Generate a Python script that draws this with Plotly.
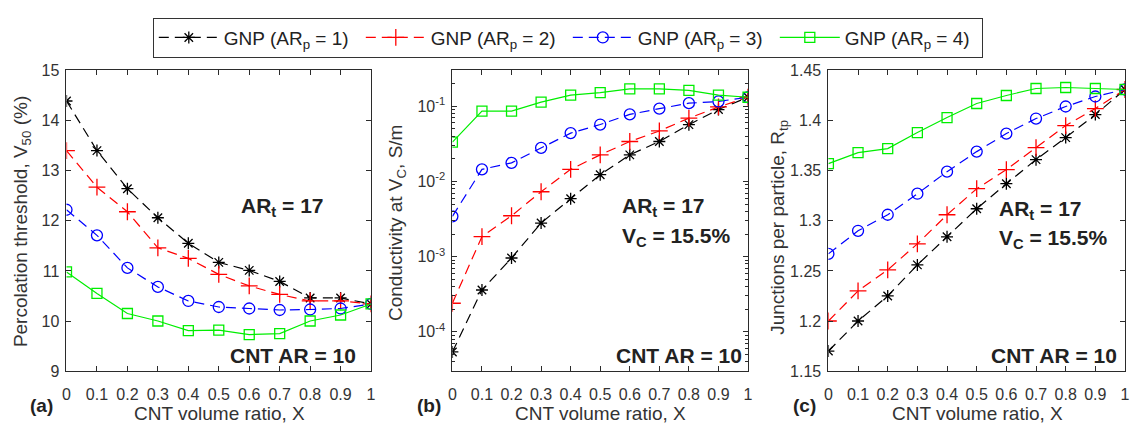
import plotly.graph_objects as go
import numpy as np

W, H = 1131, 432

# ---------------- data ----------------
x_ratio = [0, 0.1, 0.2, 0.3, 0.4, 0.5, 0.6, 0.7, 0.8, 0.9, 1.0]

series_names = ["GNP (AR<sub>p</sub> = 1)", "GNP (AR<sub>p</sub> = 2)",
                "GNP (AR<sub>p</sub> = 3)", "GNP (AR<sub>p</sub> = 4)"]

# (a) Percolation threshold V50 (%)
v50_ar1 = [14.39, 13.40, 12.64, 12.06, 11.55, 11.17, 11.01, 10.79, 10.46, 10.46, 10.34]
v50_ar2 = [13.40, 12.67, 12.18, 11.46, 11.25, 10.93, 10.70, 10.53, 10.40, 10.40, 10.34]
v50_ar3 = [12.22, 11.71, 11.06, 10.68, 10.40, 10.28, 10.25, 10.22, 10.23, 10.25, 10.34]
v50_ar4 = [10.98, 10.55, 10.15, 10.00, 9.81, 9.82, 9.73, 9.75, 10.00, 10.12, 10.34]

# (b) Conductivity at V_C (S/m)
sig_ar1 = [5.4e-5, 3.6e-4, 9.6e-4, 2.8e-3, 5.9e-3, 0.0123, 0.0226, 0.034, 0.057, 0.0906, 0.132]
sig_ar2 = [2.4e-4, 1.85e-3, 3.5e-3, 7.3e-3, 0.0145, 0.0226, 0.034, 0.047, 0.0696, 0.098, 0.132]
sig_ar3 = [3.44e-3, 0.0145, 0.0177, 0.028, 0.044, 0.0572, 0.078, 0.093, 0.110, 0.116, 0.132]
sig_ar4 = [0.0333, 0.0863, 0.0863, 0.1136, 0.141, 0.152, 0.171, 0.171, 0.163, 0.141, 0.132]

# (c) Junctions per particle R_tp
rtp_ar1 = [1.170, 1.200, 1.225, 1.256, 1.284, 1.312, 1.337, 1.361, 1.383, 1.406, 1.431]
rtp_ar2 = [1.200, 1.230, 1.251, 1.277, 1.306, 1.332, 1.351, 1.373, 1.395, 1.412, 1.431]
rtp_ar3 = [1.267, 1.290, 1.306, 1.327, 1.349, 1.369, 1.387, 1.402, 1.414, 1.424, 1.431]
rtp_ar4 = [1.357, 1.368, 1.372, 1.388, 1.403, 1.417, 1.425, 1.432, 1.433, 1.432, 1.431]

x_tickvals = [0, 0.1, 0.2, 0.3, 0.4, 0.5, 0.6, 0.7, 0.8, 0.9, 1]
x_ticktext = ["0", "0.1", "0.2", "0.3", "0.4", "0.5", "0.6", "0.7", "0.8", "0.9", "1"]
a_ticks = [9, 10, 11, 12, 13, 14, 15]
b_tickvals = [1e-4, 1e-3, 1e-2, 1e-1]
b_ticktext = ["10<sup>-4</sup>", "10<sup>-3</sup>", "10<sup>-2</sup>", "10<sup>-1</sup>"]
c_tickvals = [1.15, 1.2, 1.25, 1.3, 1.35, 1.4, 1.45]
c_ticktext = ["1.15", "1.2", "1.25", "1.3", "1.35", "1.4", "1.45"]

# ---------------- styles ----------------
colors = ["#000000", "#ff0000", "#0000ff", "#00ee00"]
symbols = ["asterisk-open", "cross-thin-open", "circle-open", "square-open"]
msizes = [10, 12, 11, 10]
dashes = ["10px,6px", "10px,6px", "10px,6px", "solid"]
FONT = "Liberation Sans, Arial, sans-serif"
AX = "#2b2b2b"
TXT = "#333333"

def px_x(p):
    return p / W

def px_y(p):
    return 1 - p / H

fig = go.Figure()

panels = [
    ("x", "y", [v50_ar1, v50_ar2, v50_ar3, v50_ar4]),
    ("x2", "y2", [sig_ar1, sig_ar2, sig_ar3, sig_ar4]),
    ("x3", "y3", [rtp_ar1, rtp_ar2, rtp_ar3, rtp_ar4]),
]
for pi, (xa, ya, data) in enumerate(panels):
    for si in range(4):
        fig.add_trace(go.Scatter(
            x=x_ratio, y=data[si], xaxis=xa, yaxis=ya,
            mode="lines+markers", name=series_names[si],
            showlegend=(pi == 0),
            line=dict(color=colors[si], width=1.2, dash=dashes[si]),
            marker=dict(symbol=symbols[si], size=msizes[si],
                        color=colors[si], line=dict(color=colors[si], width=1.3)),
        ))

top, bot = 65, 378
ydom = [px_y(bot), px_y(top)]
xdoms = [[px_x(63), px_x(370)], [px_x(452), px_x(750)], [px_x(831), px_x(1130)]]

common_x = dict(range=[0, 1], tickvals=x_tickvals, ticktext=x_ticktext,
                ticks="inside", ticklen=5, tickcolor=AX, mirror="allticks",
                showline=True, linecolor=AX, linewidth=1, showgrid=False,
                zeroline=False, ticklabelstandoff=9,
                tickfont=dict(family=FONT, size=16, color=TXT))
common_y = dict(ticks="inside", ticklen=5, tickcolor=AX, mirror="allticks",
                showline=True, linecolor=AX, linewidth=1, showgrid=False,
                zeroline=False, ticklabelstandoff=3,
                tickfont=dict(family=FONT, size=16, color=TXT))

fig.update_layout(
    width=W, height=H, margin=dict(l=0, r=0, t=0, b=0),
    paper_bgcolor="white", plot_bgcolor="white",
    font=dict(family=FONT, color=TXT),
    xaxis=dict(domain=xdoms[0], anchor="y", **common_x),
    xaxis2=dict(domain=xdoms[1], anchor="y2", **common_x),
    xaxis3=dict(domain=xdoms[2], anchor="y3", **common_x),
    yaxis=dict(domain=ydom, anchor="x", range=[9, 15], tickvals=a_ticks, **common_y),
    yaxis2=dict(domain=ydom, anchor="x2", type="log",
                range=[np.log10(3e-5), np.log10(0.3)],
                tickvals=b_tickvals, ticktext=b_ticktext,
                minor=dict(ticks="inside", ticklen=3, tickcolor=AX,
                           tickvals=[m * 10.0 ** e for e in range(-5, 0) for m in range(2, 10)]),
                **common_y),
    yaxis3=dict(domain=ydom, anchor="x3", range=[1.15, 1.45],
                tickvals=c_tickvals, ticktext=c_ticktext, **common_y),
    legend=dict(orientation="h", x=px_x(150), y=px_y(10), xanchor="left", yanchor="top",
                bordercolor="#333333", borderwidth=1, bgcolor="white",
                font=dict(family=FONT, size=19, color="#222222"),
                itemwidth=60, tracegroupgap=0,
                entrywidth=132, entrywidthmode="pixels"),
)

ann = []
def add_text(text, xp, yp, size, xanchor="center", yanchor="middle", bold=False, angle=0, color=TXT):
    ann.append(dict(text=("<b>%s</b>" % text) if bold else text, x=px_x(xp), y=px_y(yp),
                    xref="paper", yref="paper", xanchor=xanchor, yanchor=yanchor,
                    showarrow=False, textangle=angle,
                    font=dict(family=FONT, size=size, color=color)))

# x titles and panel labels
for cx, lab, lx in [(217, "(a)", 38), (601, "(b)", 428), (981, "(c)", 807)]:
    add_text("CNT volume ratio, X", cx, 422, 19)
    add_text(lab, lx, 414, 19, bold=True, color="#222222")

# y titles
add_text("Percolation threshold, V<sub>50</sub> (%)", 18, 222, 19, angle=-90)
add_text("Conductivity at V<sub>C</sub>, S/m", 396, 223, 19, angle=-90)
add_text("Junctions per particle, R<sub>tp</sub>", 781, 228, 19, angle=-90)

# in-panel annotations
BK = "#222222"
add_text("AR<sub>t</sub> = 17", 325, 207, 21, xanchor="right", bold=True, color=BK)
add_text("CNT AR = 10", 357, 362, 21, xanchor="right", bold=True, color=BK)
add_text("AR<sub>t</sub> = 17", 621, 207, 21, xanchor="left", bold=True, color=BK)
add_text("V<sub>C</sub> = 15.5%", 621, 238, 21, xanchor="left", bold=True, color=BK)
add_text("CNT AR = 10", 746, 362, 21, xanchor="right", bold=True, color=BK)
add_text("AR<sub>t</sub> = 17", 1001, 210, 21, xanchor="left", bold=True, color=BK)
add_text("V<sub>C</sub> = 15.5%", 1001, 240, 21, xanchor="left", bold=True, color=BK)
add_text("CNT AR = 10", 1124, 362, 21, xanchor="right", bold=True, color=BK)

fig.update_layout(annotations=ann)
fig.write_html("out.html")
